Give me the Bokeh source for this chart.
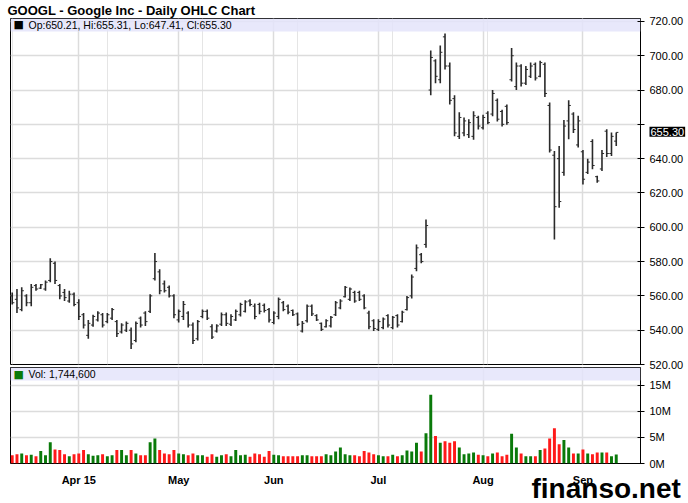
from bokeh.plotting import figure
from bokeh.layouts import column
from bokeh.models import (Range1d, FixedTicker, Label, BoxAnnotation, ColumnDataSource,
                          Grid, NumeralTickFormatter)
from bokeh.embed import file_html
from bokeh.resources import INLINE

# ---------------- data ----------------
highs = [562, 564, 565, 561, 567, 567, 567, 569, 582, 580,
         567, 564, 563, 562, 558, 550, 546, 549, 551, 550,
         550, 553, 546, 544, 545, 541.5, 545, 548, 551, 561,
         585, 575.5, 569, 566, 561, 552, 557, 551, 544.5, 546,
         552, 552, 543.5, 543.5, 550.3, 550.3, 549.3, 552, 556, 557.5,
         558, 555.5, 556, 555.5, 553, 551, 559, 557, 555, 552,
         550.3, 545.4, 555, 555, 549.3, 544.5, 546.4, 548.3, 557, 558,
         565.8, 564.9, 563, 563, 561, 551.3, 546.4, 546.4, 547.4, 549.3,
         548.3, 549.3, 551.3, 560, 572.5, 590, 585, 604.5, 703, 698,
         706, 713, 696, 677, 667, 664, 663, 667.6, 665, 665.6,
         667.6, 680, 675, 668.5, 671.5, 704.5, 696, 695, 694, 696,
         696, 697, 696, 672.8, 644.5, 647.4, 662.5, 674, 667, 665,
         645, 640, 651.3, 630, 645, 657.2, 655.3, 655.31]
lows = [555, 550, 551, 554, 554, 563, 564, 563, 568, 567,
        558, 557, 556, 554, 546, 541, 535, 542, 545, 541.5,
        544, 546, 536, 538, 539, 529, 533, 541.5, 542.5, 550,
        569, 561, 562, 559, 547, 544.5, 546, 541.5, 532, 534,
        547, 546, 534.8, 538.6, 542.5, 542.5, 542.5, 545.4, 548, 550.3,
        554, 546.4, 549.3, 550.3, 544.5, 543.5, 546.4, 551, 549.3, 548.3,
        542.5, 538.6, 544.5, 548.3, 545.4, 539.6, 541.6, 541.6, 548.3, 552.2,
        559, 557, 556, 557, 552.2, 540.6, 539.6, 539.6, 540.6, 541.6,
        540.6, 541.6, 544.5, 551.5, 558.5, 574.4, 579, 588, 677, 684,
        684, 692, 671.5, 653, 651.5, 653, 652, 651, 657, 657,
        660, 664.7, 661.7, 658.8, 659.8, 685, 680, 682, 683, 687,
        685.5, 687.4, 676, 643.6, 592.9, 611.4, 630, 651.3, 655, 646.5,
        625, 631, 633.8, 626, 632.8, 641, 641.6, 647.41]
opens = [560, 558, 552, 560, 556, 566, 564.5, 564, 569, 579,
         566, 562, 557, 561, 556, 549, 537, 543, 546, 549,
         545, 547, 545, 539, 540, 540, 534, 547, 550, 551,
         570, 574, 567, 565, 560, 546, 548, 550, 543, 535,
         548, 551, 542, 539.5, 543.5, 549, 543.5, 546, 549, 551,
         557, 554, 555, 554.5, 552, 544.5, 548, 556, 554, 551.5,
         549.5, 539.5, 545.5, 554, 548.5, 544, 542, 542.5, 549, 553,
         559.5, 558, 562, 562, 560, 550, 545.5, 540.5, 541.5, 548.5,
         541.5, 548.5, 545, 552, 560, 576, 584, 590, 680, 697,
         686, 711, 694, 675, 653, 655, 654, 653, 664, 658,
         666.5, 666, 674, 667.5, 670.5, 686, 682, 694, 684, 688,
         695, 688, 695, 671, 642, 640, 632, 662, 666, 648,
         644, 632, 650, 629.5, 634, 656, 643, 650.21]
closes = [556, 553, 563, 556, 565, 564, 566.5, 568, 580, 569,
          560, 559, 561, 555, 548, 543, 544, 548, 550, 543,
          549, 552, 538, 543, 544, 532, 544, 543, 545, 560,
          580, 563, 563, 560, 549, 551, 555, 543, 534, 545,
          551, 547, 536, 542.5, 549, 544, 548, 551, 555, 556.5,
          555, 548, 551, 551.5, 546, 550, 558, 552, 550.5, 549,
          543.5, 544, 554, 549.5, 546, 540.5, 545.5, 547.5, 556, 557,
          565, 564, 557, 558, 553, 542, 541, 545, 546.5, 543,
          547.5, 543, 550.5, 559, 571, 588, 580, 601, 699, 688,
          702, 694, 674, 655, 664, 662, 661, 665, 659, 664,
          661, 678, 663, 660, 661, 700, 694, 684, 692, 694,
          687, 696, 678, 645, 612, 615, 659, 671, 657, 662,
          628, 638, 636, 627, 643, 643, 653, 655.30]
volumes_m = [1.6, 1.8, 1.9, 1.6, 1.7, 1.4, 2.4, 1.6, 4.1, 2.7,
             2.6, 1.8, 1.4, 1.8, 1.9, 2.6, 1.8, 1.5, 1.6, 1.8,
             1.4, 1.6, 2.6, 2.6, 1.6, 2.6, 1.9, 1.6, 1.6, 4.1,
             4.8, 2.6, 1.9, 1.8, 2.6, 1.9, 1.8, 1.6, 1.9, 1.6,
             1.6, 1.3, 1.8, 1.3, 1.6, 1.8, 1.4, 2.6, 1.6, 1.7,
             1.3, 1.9, 1.8, 1.3, 2.4, 1.7, 1.6, 1.4, 1.4, 1.4,
             1.4, 1.6, 1.6, 1.4, 1.4, 1.4, 1.8, 1.6, 2.3, 3.1,
             1.8, 1.6, 1.6, 1.4, 2.4, 2.1, 1.8, 1.6, 1.4, 1.4,
             1.7, 1.4, 1.6, 2.5, 2.3, 4.0, 2.3, 5.8, 13.2, 5.3,
             4.0, 4.3, 4.0, 4.3, 3.1, 1.8, 1.9, 2.1, 1.7, 1.6,
             1.4, 1.9, 2.1, 1.4, 1.7, 5.7, 3.1, 1.9, 1.4, 1.4,
             1.4, 2.6, 2.9, 4.8, 6.8, 3.7, 4.5, 3.1, 1.9, 1.9,
             2.7, 1.9, 1.8, 2.1, 2.1, 2.1, 1.4, 1.7446]

month_ticks = [14, 35, 55, 77, 99, 120]
month_labels = ["Apr 15", "May", "Jun", "Jul", "Aug", "Sep"]
price_ticks = [520, 540, 560, 580, 600, 620, 640, 660, 680, 700, 720]
vol_ticks = [0, 5, 10, 15]
vol_labels = ["0M", "5M", "10M", "15M"]

TITLE = "GOOGL - Google Inc - Daily OHLC Chart"
WATERMARK = "finanso.net"

FONT = "Liberation Sans"
UP = "#0a7a0a"
DOWN = "#ff1a1a"
GRID = "#dcdcdc"
BAND = "#e4e4fa"

n = len(highs)
idx = list(range(n))
colors = [UP if c >= o else DOWN for o, c in zip(opens, closes)]
src = ColumnDataSource(dict(
    x=idx, hi=highs, lo=lows, op=opens, cl=closes,
    xl=[i - 0.45 for i in idx], xr=[i + 0.45 for i in idx],
    vol=volumes_m, color=colors))

W, H = 688, 503
LEFT, RIGHT = 10, 48          # borders around the plot frames
P_TOP, P_FRAME_H = 17, 347    # price frame
V_FRAME_H = 96                # volume frame
X0, X1 = -0.36, 132.1
P0, P1 = 520, 721.7
V1 = 18.46
TICK_OUT, STANDOFF = 4, 5

# ---------------- price panel ----------------
p = figure(width=W, height=P_TOP + P_FRAME_H + 1, x_range=Range1d(X0, X1), y_range=Range1d(P0, P1),
           x_axis_location=None, y_axis_location="right",
           output_backend="svg", toolbar_location=None,
           min_border_left=LEFT, min_border_right=RIGHT, min_border_top=P_TOP, min_border_bottom=1)
p.outline_line_color = "black"
p.outline_line_width = 1

p.title.text = TITLE
p.title.text_font = FONT
p.title.text_font_size = "13px"
p.title.text_font_style = "bold"
p.title.text_color = "black"
p.title.standoff = 1
p.title.offset = -3
p.title.align = "left"

p.ygrid.ticker = FixedTicker(ticks=price_ticks)
p.ygrid.grid_line_color = GRID
p.ygrid.grid_line_width = 1.5
p.add_layout(Grid(dimension=0, ticker=FixedTicker(ticks=month_ticks),
                  grid_line_color=GRID, grid_line_width=1.5))

ya = p.yaxis[0]
ya.ticker = FixedTicker(ticks=price_ticks)
ya.formatter = NumeralTickFormatter(format="0.00")
# 660 is hidden by the last-price tag; 520 sits on the panel edge and is drawn on the overlay
ya.major_label_overrides = {660: "", 520: ""}
ya.axis_line_color = None
ya.major_tick_in = 3
ya.major_tick_out = TICK_OUT
ya.major_tick_line_color = "black"
ya.minor_tick_line_color = None
ya.major_label_text_font = FONT
ya.major_label_text_font_size = "11px"
ya.major_label_text_color = "black"
ya.major_label_standoff = STANDOFF

band_h = 13 / (P_FRAME_H / (P1 - P0))
p.add_layout(BoxAnnotation(bottom=P1 - band_h, top=P1, fill_color=BAND, fill_alpha=0.85,
                           line_color=None, level="underlay"))

p.segment(x0="x", y0="lo", x1="x", y1="hi", source=src, line_color="#2a2a2a", line_width=1.6)
p.segment(x0="xl", y0="op", x1="x", y1="op", source=src, line_color="#2a2a2a", line_width=1)
p.segment(x0="x", y0="cl", x1="xr", y1="cl", source=src, line_color="#2a2a2a", line_width=1)

last = n - 1
legend_txt = "Op:%.2f, Hi:%.2f, Lo:%.2f, Cl:%.2f" % (opens[last], highs[last], lows[last], closes[last])
p.add_layout(Label(x=3, y=P1 - band_h / 2, x_units="screen", y_units="data", text="\u25a0",
                   text_font="DejaVu Sans", text_font_size="11px", text_color="black",
                   text_baseline="middle"))
p.add_layout(Label(x=18, y=P1 - band_h / 2, x_units="screen", y_units="data", text=legend_txt,
                   text_font=FONT, text_font_size="10.5px", text_color="black",
                   text_baseline="middle"))

# ---------------- volume panel ----------------
V_H = H - (P_TOP + P_FRAME_H + 1)
v = figure(width=W, height=V_H, x_range=p.x_range, y_range=Range1d(0, V1),
           y_axis_location="right", output_backend="svg", toolbar_location=None,
           min_border_left=LEFT, min_border_right=RIGHT, min_border_top=2,
           min_border_bottom=V_H - 2 - V_FRAME_H)
v.outline_line_color = "black"
v.outline_line_width = 1
v.ygrid.ticker = FixedTicker(ticks=vol_ticks)
v.ygrid.grid_line_color = GRID
v.ygrid.grid_line_width = 1.5
v.xgrid.ticker = FixedTicker(ticks=month_ticks)
v.xgrid.grid_line_color = GRID
v.xgrid.grid_line_width = 1.5

va = v.yaxis[0]
va.ticker = FixedTicker(ticks=vol_ticks)
va.major_label_overrides = dict(zip(vol_ticks, vol_labels))
va.axis_line_color = None
va.major_tick_in = 3
va.major_tick_out = TICK_OUT
va.major_tick_line_color = "black"
va.minor_tick_line_color = None
va.major_label_text_font = FONT
va.major_label_text_font_size = "11px"
va.major_label_text_color = "black"
va.major_label_standoff = STANDOFF

xa = v.xaxis[0]
xa.ticker = FixedTicker(ticks=month_ticks)
xa.major_label_overrides = dict(zip(month_ticks, month_labels))
xa.axis_line_color = None
xa.major_tick_line_color = None
xa.minor_tick_line_color = None
xa.major_label_text_font = FONT
xa.major_label_text_font_size = "11px"
xa.major_label_text_font_style = "bold"
xa.major_label_text_color = "black"
xa.major_label_standoff = 4

vband_h = 13 / (V_FRAME_H / V1)
v.add_layout(BoxAnnotation(bottom=V1 - vband_h, top=V1, fill_color=BAND, fill_alpha=0.85,
                           line_color=None, level="underlay"))
v.vbar(x="x", top="vol", width=0.62, source=src, fill_color="color", line_color=None)

v.add_layout(Label(x=3, y=V1 - vband_h / 2, x_units="screen", y_units="data", text="\u25a0",
                   text_font="DejaVu Sans", text_font_size="11px", text_color=UP,
                   text_baseline="middle"))
v.add_layout(Label(x=18, y=V1 - vband_h / 2, x_units="screen", y_units="data",
                   text="Vol: {:,}".format(int(round(volumes_m[last] * 1e6))),
                   text_font=FONT, text_font_size="10.5px", text_color="black",
                   text_baseline="middle"))

# ---------------- transparent overlay (last-price tag, edge label, watermark) ----------------
# a separate root laid over the whole page; its frame covers the full canvas and its
# y scale is the price scale extended over the page
px_per_price = P_FRAME_H / (P1 - P0)
px_per_idx = (W - LEFT - RIGHT) / (X1 - X0)
ov = figure(width=W, height=H,
            x_range=Range1d(X0 - LEFT / px_per_idx, X1 + RIGHT / px_per_idx),
            y_range=Range1d(P1 - (H - P_TOP) / px_per_price, P1 + P_TOP / px_per_price),
            x_axis_location=None, y_axis_location=None,
            output_backend="svg", toolbar_location=None,
            min_border=0, min_border_left=0, min_border_right=0, min_border_top=0, min_border_bottom=0)
ov.grid.visible = False
ov.outline_line_color = None
ov.background_fill_alpha = 0
ov.border_fill_alpha = 0
ov.styles = {"position": "absolute", "top": "0px", "left": "0px", "pointer-events": "none"}
label_x = W - RIGHT + TICK_OUT + STANDOFF
ov.add_layout(Label(x=label_x, y=price_ticks[0], x_units="screen", y_units="data",
                    text="%.2f" % price_ticks[0], text_font=FONT, text_font_size="11px",
                    text_color="black", text_baseline="middle"))
ov.add_layout(Label(x=label_x, y=closes[last], x_units="screen", y_units="data",
                    text="%.2f" % closes[last], text_font=FONT, text_font_size="11px",
                    text_color="white", text_baseline="middle",
                    background_fill_color="black", background_fill_alpha=1.0, padding=1))
ov.add_layout(Label(x=531, y=15, x_units="screen", y_units="screen", text=WATERMARK,
                    text_font=FONT, text_font_size="28px", text_font_style="bold",
                    text_color="black", text_baseline="alphabetic"))

layout = column(p, v, spacing=0)
open("out.html", "w").write(file_html([layout, ov], INLINE))
